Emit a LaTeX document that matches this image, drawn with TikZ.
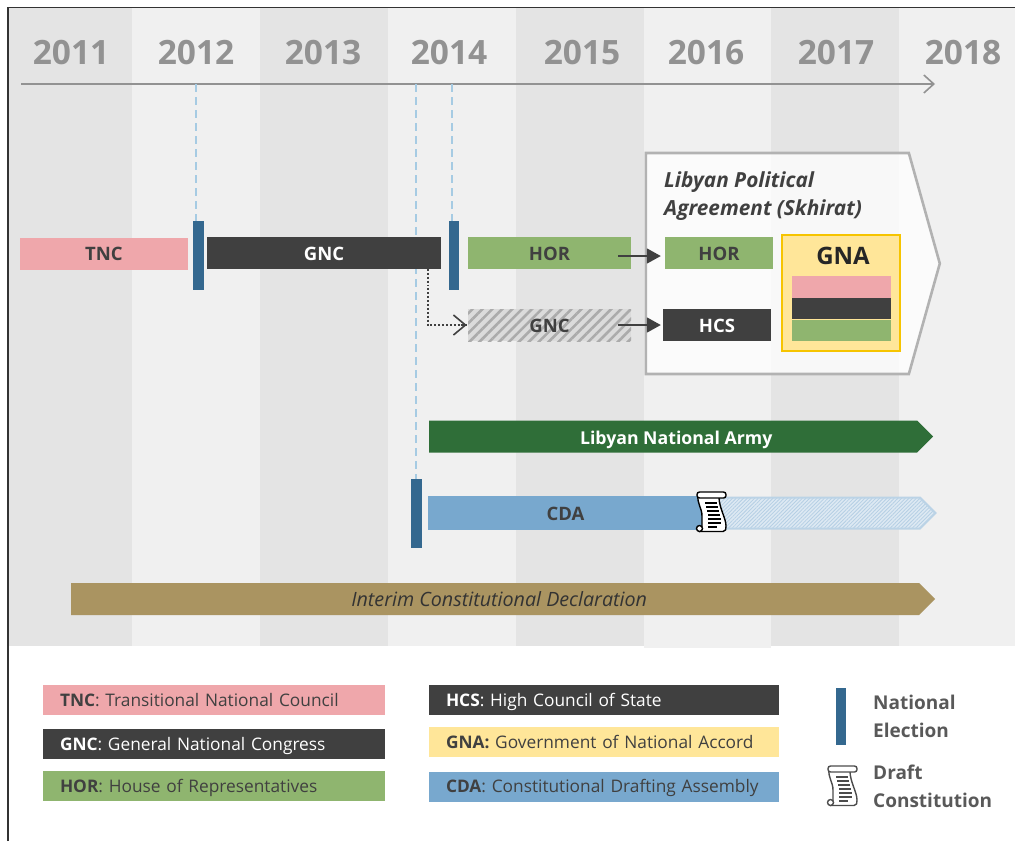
\documentclass[tikz,border=0pt]{standalone}
\usepackage{fontspec}
\setmainfont{Open Sans}
\usetikzlibrary{arrows,arrows.meta,positioning,calc,patterns.meta,shapes.symbols}
\definecolor{bandDark}{HTML}{E4E4E4}
\definecolor{bandLight}{HTML}{F0F0F0}
\definecolor{yearColor}{HTML}{929292}
\definecolor{tncColor}{HTML}{EFA7AB}
\definecolor{gncColor}{HTML}{404040}
\definecolor{horColor}{HTML}{8FB56F}
\definecolor{gnaColor}{HTML}{FFE699}
\definecolor{gnaBorder}{HTML}{F6C400}
\definecolor{cdaColor}{HTML}{78A8CE}
\definecolor{lnaColor}{HTML}{2F6E38}
\definecolor{icdColor}{HTML}{AA9461}
\definecolor{elecColor}{HTML}{34688F}
\definecolor{dashColor}{HTML}{A6CBE3}
\tikzset{
	year/.style={font=\fontsize{33.5}{33.5}\selectfont\bfseries,text=yearColor,inner sep=0},
	bar/.style={inner sep=0,minimum height=32,text height=14,text depth=0,font=\fontsize{18.5}{18.5}\selectfont\bfseries,text=gncColor},
	elec/.style={fill=elecColor,inner sep=0,minimum width=10.5,minimum height=69},
	leg/.style={inner sep=0,inner xsep=17,minimum height=30,text height=13,text depth=1,align=left,font=\fontsize{17.3}{17.3}\selectfont,text=gncColor},
	longbar/.style={shape=signal,signal to=east,signal from=nowhere,signal pointer angle=90,inner sep=0,anchor=west,minimum height=32,text height=15,text depth=0},
	link/.style={->,>={Triangle[length=14,width=15]},line width=1.8,gncColor},
	election dash/.style={dashColor,dash pattern=on 8pt off 5pt,line width=1.8},
	scrollicon/.pic={
		\filldraw[fill=white,draw=#1,line width=1.4,line join=round]
			(-13,-17) .. controls (-14,-8) and (-9,-4) .. (-9,4) -- (-9,15) -- (-12,15)
			-- (-12,19.5) -- (12,19.5) .. controls (15,19.5) and (15,17) .. (15,14)
			.. controls (15,6) and (8,-4) .. (8,-15) -- cycle;
		\filldraw[fill=white,draw=#1,line width=1.4,rounded corners=2.5] (-14,-20) rectangle (15,-14);
		\filldraw[fill=white,draw=#1,line width=1.4] (-11.5,16.5) circle (3);
		\draw[#1,line width=1.5] (-6,-9) -- (6,-9) (-5,-5) -- (7,-5) (-4,-1) -- (8,-1) (-3,3) -- (9,3) (-3,7) -- (10,7) (-3,11) -- (10,11) (-3,15) -- (6,15);
	},
	pics/scrollicon/.default=black
}
\begin{document}
\begin{tikzpicture}[x=1pt,y=-1pt]
	\useasboundingbox (0,0) rectangle (1015,841);
	% year bands
	\fill[bandDark] (9,8) rectangle (132,646);
	\fill[bandLight] (132,8) rectangle (260,646);
	\fill[bandDark] (260,8) rectangle (388,646);
	\fill[bandLight] (388,8) rectangle (516,646);
	\fill[bandDark] (516,8) rectangle (644,646);
	\fill[bandLight] (644,8) rectangle (771,648);
	\fill[bandDark] (771,8) rectangle (899,646);
	\fill[bandLight] (899,8) rectangle (1015,646);
	\draw[black!80,line width=1.3] (8,841) -- (8,7.5) -- (1015,7.5);

	\node[year] (y2011) at (71,53) {2011};
	\node[year] (y2012) at (196,53) {2012};
	\node[year] (y2013) at (323,53) {2013};
	\node[year] (y2014) at (449,53) {2014};
	\node[year] (y2015) at (582,53) {2015};
	\node[year] (y2016) at (706,53) {2016};
	\node[year] (y2017) at (836,53) {2017};
	\node[year] (y2018) at (963,53) {2018};

	\coordinate (axisL) at (21,84);
	\coordinate (axisR) at (935,84);
	\path (axisL) edge[->,>={Straight Barb[length=10,width=18]},line width=1.6,yearColor] (axisR);

	\coordinate (t1) at (196,84);
	\coordinate (t2) at (416,84);
	\coordinate (t3) at (452,84);

	% elections
	\node[elec] (e1) at (198.5,255.5) {};
	\node[elec] (e2) at (454,255.5) {};
	\node[elec] (e3) at (416.5,513.5) {};
	\draw[election dash] (t1) -- (t1 |- e1.north);
	\draw[election dash] (t2) -- (t2 |- e3.north);
	\draw[election dash] (t3) -- (t3 |- e2.north);

	% agreement box
	\node[shape=signal,signal to=east,signal from=nowhere,signal pointer angle=148.7,anchor=west,draw=black!30,line width=2.6,fill=white,fill opacity=.75,minimum width=294,minimum height=221,inner sep=0] (lpa) at (644.5,263.5) {};
	\node[inner sep=0,align=left,anchor=north west,font=\fontsize{20.8}{28}\selectfont\bfseries\itshape,text=gncColor] (lpat) at (664,171) {Libyan Political\\Agreement (Skhirat)};

	\node[bar,fill=tncColor,minimum width=168] (tnc) at (104,253.5) {TNC};
	\node[bar,fill=gncColor,text=white,minimum width=234] (gnc) at (324,253) {GNC};
	\node[bar,fill=horColor,minimum width=163] (hora) at (549.5,253) {HOR};
	\node[bar,fill=horColor,minimum width=108] (horb) at (719,253) {HOR};
	\node[bar,minimum width=163,preaction={fill=black!14},pattern={Lines[angle=45,distance=7,line width=2.6]},pattern color=black!33] (gncb) at (549.5,325) {GNC};
	\node[bar,fill=gncColor,text=white,minimum width=108] (hcs) at (717,325) {HCS};

	\node[fill=gnaColor,draw=gnaBorder,line width=2,minimum width=118,minimum height=116,inner sep=0] (gna) at (841,293) {};
	\node[inner sep=0,font=\fontsize{24}{24}\selectfont\bfseries,text=black!85] (gnat) at (843,256) {GNA};
	\node[fill=tncColor,minimum width=99,minimum height=22,inner sep=0] (fl1) at (841.5,287) {};
	\node[fill=gncColor,minimum width=99,minimum height=21,inner sep=0,below=0 of fl1] (fl2) {};
	\node[fill=horColor,minimum width=99,minimum height=21,inner sep=0,below=0 of fl2] (fl3) {};

	\coordinate (gncDrop) at (428,265);
	\coordinate (horOut) at (618,256);
	\coordinate (gncOut) at (618,325);
	\path (horOut) edge[link,shorten >=4] (horb.west |- horOut);
	\path (gncOut) edge[link,shorten >=2] (hcs.west);
	\draw[dotted,line width=1.9,gncColor] (gncDrop) |- (gncb.west);
	\draw[->,>={Straight Barb[length=12,width=20]},line width=1.6,gncColor] ($(gncb.west)+(-6,0)$) -- (gncb.west);

	\node[longbar,fill=lnaColor,text=white,minimum width=504,font=\fontsize{17.7}{17.7}\selectfont\bfseries] (lna) at (429,436.5) {\hspace*{6pt}Libyan National Army};
	\node[longbar,draw=cdaColor!50,line width=2,preaction={fill=cdaColor!25},pattern={Lines[angle=45,distance=2.6,line width=.8]},pattern color=cdaColor!55,minimum width=236,minimum height=31] (cdab) at (699,513) {};
	\node[bar,fill=cdaColor,minimum width=275,minimum height=34] (cda) at (565.5,513) {CDA};
	\pic at (711,512) {scrollicon};
	\node[longbar,fill=icdColor,text=black!80,minimum width=864,font=\fontsize{19.7}{19.7}\selectfont\itshape] (icd) at (71,599) {\hspace*{8pt}Interim Constitutional Declaration};

	% legend
	\node[leg,fill=tncColor,minimum width=342,text width=308] (l1) at (214,700) {\textbf{TNC}: Transitional National Council};
	\node[leg,fill=gncColor,text=white,minimum width=342,text width=308] (l2) at (214,744) {\textbf{GNC}: General National Congress};
	\node[leg,fill=horColor,minimum width=342,text width=308] (l3) at (214,786) {\textbf{HOR}: House of Representatives};
	\node[leg,fill=gncColor,text=white,minimum width=350,text width=316] (l4) at (604,700) {\textbf{HCS}: High Council of State};
	\node[leg,fill=gnaColor,minimum width=350,text width=316] (l5) at (604,742) {\textbf{GNA:} Government of National Accord};
	\node[leg,fill=cdaColor,minimum width=350,text width=316] (l6) at (604,786.5) {\textbf{CDA}: Constitutional Drafting Assembly};

	\node[elec,minimum height=57] (l7) at (841,716.5) {};
	\node[inner sep=0,anchor=north west,align=left,font=\fontsize{19}{28}\selectfont\bfseries,text=black!65] (l7t) at (873,695) {National\\Election};
	\pic at (842,786) {scrollicon={black!70}};
	\node[inner sep=0,anchor=north west,align=left,font=\fontsize{19}{28}\selectfont\bfseries,text=black!65] (l8t) at (873,765) {Draft\\Constitution};
\end{tikzpicture}
\end{document}
